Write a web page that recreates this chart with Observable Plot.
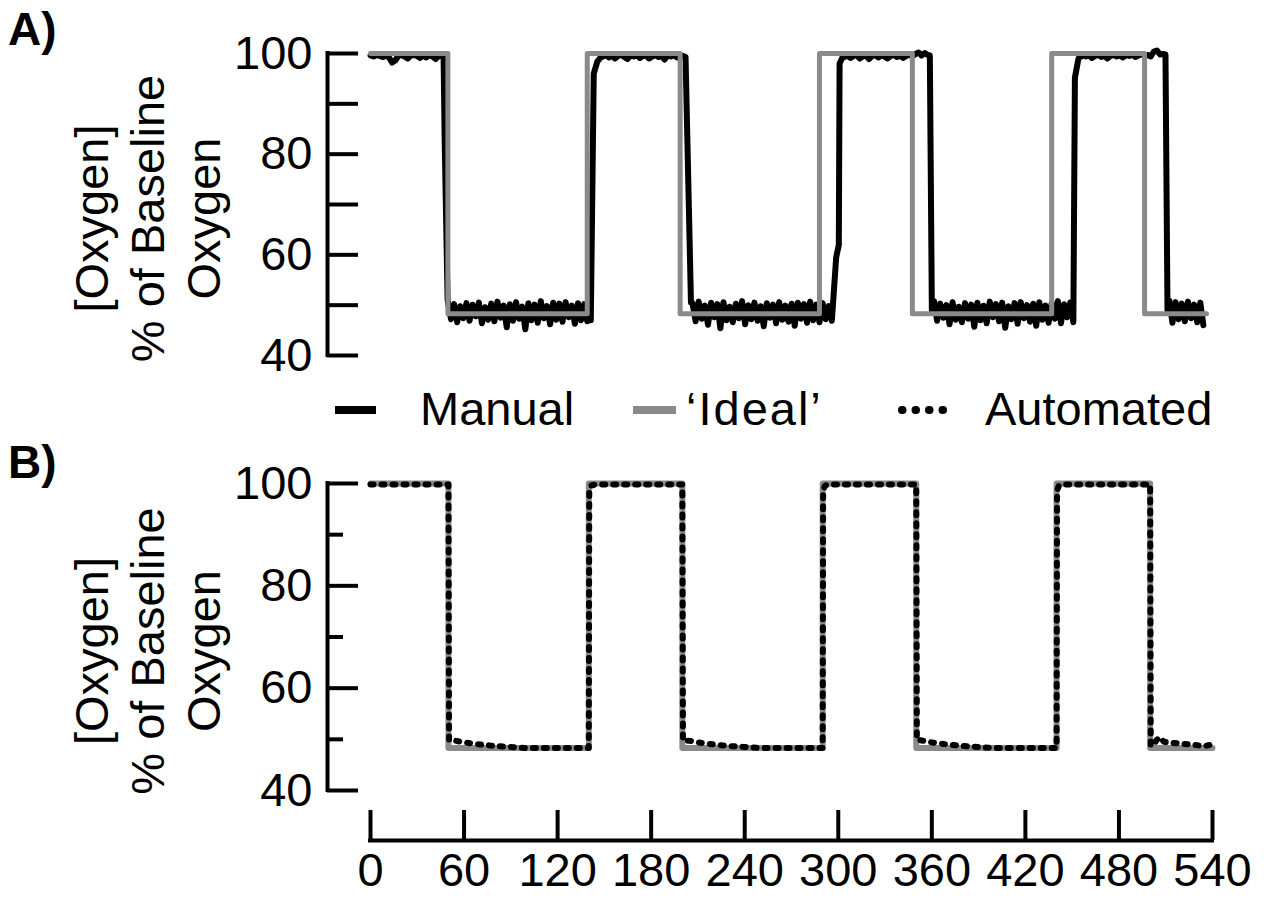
<!DOCTYPE html>
<html>
<head>
<meta charset="utf-8">
<script src="https://cdn.jsdelivr.net/npm/d3@7"></script>
<script src="https://cdn.jsdelivr.net/npm/@observablehq/plot@0.6"></script>
<style>
  html, body { margin: 0; padding: 0; background: #fff; }
  #wrap { position: relative; width: 1271px; height: 900px; overflow: hidden; background: #fff; }
  #wrap > * { position: absolute; left: 0; }
</style>
</head>
<body>
<div id="wrap"></div>
<script>
// ---------------- DATA ----------------
const xTicks = [0, 60, 120, 180, 240, 300, 360, 420, 480, 540];
const yTicksAll = [40, 50, 60, 70, 80, 90, 100];
const yTicksMajor = [40, 60, 80, 100];
const yTicksMinor = [50, 70, 90];
const yLabel = "[Oxygen]\n% of Baseline\nOxygen";
const panelTags = ["A)", "B)"];
const seriesNames = ["Manual", "\u2018Ideal\u2019", "Automated"];

// 'Ideal' square wave: switch times (s) and the level held from each time on
const idealTimes  = [0,   50,   140, 200,  290, 350,  440, 500,  540];
const idealLevels = [100, 48.3, 100, 48.3, 100, 48.3, 100, 48.3, 48.3];

// Manual trace (panel A): samples every 2 s inside each phase
const manualSampleStep = 2;
const manualHigh1 = [99.6, 99.4, 99.7, 99.5, 99.3, 99.6, 99.2, 98.2, 98.6, 99.5,
                     99.7, 99.4, 99.0, 99.6, 99.7, 99.5, 99.1, 99.6, 99.2, 99.7,
                     99.4, 98.9, 99.5, 99.6];                       // t = 0..46
const manualLow1  = [50.6, 47.2, 50.2, 46.6, 49.8, 47.4, 50.4, 46.9, 50.1, 47.8,
                     50.5, 46.4, 49.6, 47.1, 50.3, 46.8, 50.7, 47.5, 49.9, 45.6,
                     50.2, 46.9, 50.6, 47.3, 49.7, 45.2, 50.4, 47.0, 50.1, 46.5,
                     50.8, 47.4, 49.8, 46.2, 50.5, 47.1, 50.3, 46.7, 50.6, 47.6,
                     49.9, 46.3, 50.4, 47.0, 50.2, 46.8, 49.6];     // t = 50..142
const manualHigh2 = [99.4, 99.7, 99.2, 99.6, 99.0, 99.5, 99.7, 99.3, 98.9, 99.6,
                     99.4, 99.7, 99.1, 99.5, 99.6, 99.0, 99.4, 99.7, 99.3, 99.5,
                     98.8, 99.6, 99.4, 99.7, 99.2, 99.6, 99.5];     // t = 150..202
const manualLow2  = [50.4, 46.8, 50.7, 47.3, 49.9, 46.1, 50.5, 47.6, 50.2, 45.4,
                     50.6, 47.0, 49.7, 46.6, 50.3, 47.4, 50.8, 46.2, 50.0, 47.2,
                     50.5, 46.9, 49.8, 45.8, 50.4, 47.5, 50.1, 46.4, 50.6, 47.1,
                     49.9, 46.7, 50.3, 45.9, 50.5, 47.3, 50.2, 46.5, 50.7, 47.0,
                     50.1, 46.6, 50.4, 47.2, 49.8, 46.9];           // t = 208..298
const manualHigh3 = [99.3, 99.6, 99.1, 99.5, 99.7, 99.0, 99.4, 99.6, 98.9, 99.5,
                     99.7, 99.2, 99.6, 99.4, 99.0, 99.5, 99.7, 99.3, 99.6, 99.1,
                     99.5, 99.8, 99.4, 99.9, 100.2, 99.6, 100.1, 99.7]; // t = 306..360
const manualLow3  = [50.8, 46.9, 50.3, 47.5, 50.0, 46.2, 50.6, 47.1, 49.7, 46.6,
                     50.4, 47.3, 50.1, 45.7, 50.5, 47.0, 49.9, 46.4, 50.7, 47.6,
                     50.2, 46.8, 50.5, 45.5, 49.8, 47.2, 50.4, 46.3, 50.6, 47.4,
                     50.0, 46.7, 50.3, 45.9, 50.6, 47.1, 49.9, 46.5, 50.4, 47.3,
                     50.8, 46.4, 50.2, 47.6, 50.5, 46.6];           // t = 364..454
const manualHigh4 = [99.2, 99.6, 99.4, 99.7, 99.1, 99.5, 99.8, 99.3, 99.6, 99.0,
                     99.5, 99.7, 99.4, 99.6, 99.2, 99.7, 99.5, 99.8, 99.3, 99.6,
                     99.9, 99.5, 99.7, 99.4, 100.4, 100.6, 99.8, 99.9]; // t = 458..512
const manualLow4  = [50.9, 46.5, 50.6, 47.2, 50.3, 46.8, 50.7, 47.4, 50.1, 46.6,
                     50.5, 46.0];                                   // t = 516..538
const manualPhaseStarts = [0, 50, 150, 208, 306, 364, 458, 516];
// Transitions of the manual trace: [time (s), % of baseline]
const manualEdges = [
  [47.2, 99.3], [47.9, 83.0], [49.8, 51.0],
  [142.3, 47.0], [144.2, 96.0], [146.5, 98.4], [148.8, 99.3],
  [203.5, 99.3], [207.0, 50.5],
  [300.8, 59.5], [302.5, 62.0], [303.0, 98.0], [305.0, 99.3],
  [361.3, 99.6], [362.6, 49.0],
  [455.0, 95.2], [457.3, 99.0],
  [513.5, 99.8], [514.8, 49.0]
];

// Automated trace (panel B)
const autoTimes  = [0, 50, 50.4, 55, 60, 70, 80, 90, 100, 140,
                    140.3, 141.5, 144, 200, 200.4, 205, 210, 220, 230, 240,
                    250, 290, 290.3, 291.5, 294, 350, 350.4, 355, 360, 370,
                    380, 390, 400, 440, 440.3, 441.5, 444, 500, 500.4, 502,
                    504, 506, 509, 515, 525, 535, 538, 540];
const autoValues = [99.8, 99.8, 49.8, 49.7, 49.4, 49.0, 48.7, 48.5, 48.3, 48.3,
                    98.6, 99.6, 99.8, 99.8, 49.8, 49.7, 49.4, 49.0, 48.7, 48.5,
                    48.3, 48.3, 98.6, 99.6, 99.8, 99.8, 49.9, 49.7, 49.4, 49.0,
                    48.7, 48.5, 48.3, 48.3, 98.6, 99.6, 99.8, 99.8, 48.9, 48.7,
                    49.8, 50.4, 49.5, 49.3, 49.0, 48.7, 48.9, 48.5];

// ---------------- BUILD TABLES ----------------
const manualPhases = [manualHigh1, manualLow1, manualHigh2, manualLow2,
                      manualHigh3, manualLow3, manualHigh4, manualLow4];
const manual = manualPhases
  .flatMap((vals, k) => vals.map((v, i) => ({t: manualPhaseStarts[k] + i * manualSampleStep, v})))
  .concat(manualEdges.map(([t, v]) => ({t, v})))
  .sort((a, b) => a.t - b.t);
const ideal = idealTimes.map((t, i) => ({t, v: idealLevels[i]}));
const automated = autoTimes.map((t, i) => ({t, v: autoValues[i]}));

// ---------------- STYLE ----------------
const FONT = '"Liberation Sans", Arial, Helvetica, sans-serif';
const GRAY = "#8a8a8a";
const style = {fontFamily: FONT, fontSize: "47px", color: "black", background: "transparent", overflow: "visible"};
const wrap = document.getElementById("wrap");

function yAxisMarks(minorShort) {
  const m = [
    Plot.ruleX([0], {y1: 40, y2: 100, dx: -43, stroke: "black", strokeWidth: 4, strokeLinecap: "square"}),
    Plot.axisY(yTicksMajor, {tickSize: 0, tickPadding: 0, dx: -58, fontSize: 47, label: null})
  ];
  if (minorShort) {
    m.push(Plot.axisY(yTicksMajor, {tickSize: 31, dx: -12, strokeWidth: 4, fill: "none", label: null}));
    m.push(Plot.axisY(yTicksMinor, {tickSize: 16, dx: -27, strokeWidth: 4, fill: "none", label: null}));
  } else {
    m.push(Plot.axisY(yTicksAll, {tickSize: 31, dx: -12, strokeWidth: 4, fill: "none", label: null}));
  }
  m.push(Plot.text([yLabel], {frameAnchor: "left", text: d => d, rotate: -90, dx: -224, dy: 14,
                              fontSize: 47, lineHeight: 1.19, textAnchor: "middle"}));
  return m;
}

// Panel A
const plotA = Plot.plot({
  width: 1271, height: 380,
  marginLeft: 370, marginRight: 65, marginTop: 53, marginBottom: 25,
  x: {domain: [0, 540], axis: null},
  y: {domain: [40, 100], label: null},
  style,
  marks: [
    ...yAxisMarks(false),
    Plot.line(manual, {x: "t", y: "v", stroke: "black", strokeWidth: 6, strokeLinejoin: "round", strokeLinecap: "round"}),
    Plot.line(ideal, {x: "t", y: "v", curve: "step-after", stroke: GRAY, strokeWidth: 5})
  ]
});
plotA.style.top = "0px";
wrap.appendChild(plotA);

// Panel B
const plotB = Plot.plot({
  width: 1271, height: 460,
  marginLeft: 370, marginRight: 59, marginTop: 43, marginBottom: 110,
  x: {domain: [0, 540], label: null},
  y: {domain: [40, 100], label: null},
  style,
  marks: [
    ...yAxisMarks(true),
    Plot.ruleY([40], {x1: 0, x2: 540, dy: 50, stroke: "black", strokeWidth: 4, strokeLinecap: "square"}),
    Plot.axisX(xTicks, {tickSize: 30, dy: 20, strokeWidth: 4, fill: "none", label: null}),
    Plot.axisX(xTicks, {tickSize: 0, tickPadding: 0, dy: 62, fontSize: 47, label: null}),
    Plot.line(ideal, {x: "t", y: "v", curve: "step-after", stroke: GRAY, strokeWidth: 6}),
    Plot.line(automated, {x: "t", y: "v", stroke: "black", strokeWidth: 6,
                          strokeDasharray: "3,8", strokeLinecap: "round", strokeLinejoin: "round"})
  ]
});
plotB.style.top = "440px";
wrap.appendChild(plotB);

// Overlay: panel tags and legend
const ov = d3.select(wrap).append("svg")
  .attr("width", 1271).attr("height", 900)
  .style("top", "0px").style("font-family", FONT);
ov.selectAll("text.tag").data(panelTags).join("text")
  .attr("class", "tag")
  .attr("x", 8).attr("y", (d, i) => i === 0 ? 45 : 478)
  .attr("font-size", 46).attr("font-weight", "bold").text(d => d);

const legendStyles = [
  {x1: 335, x2: 376, tx: 420, stroke: "black", width: 8, dash: null, cap: "butt", spacing: 0},
  {x1: 633, x2: 676, tx: 686, stroke: GRAY, width: 8, dash: null, cap: "butt", spacing: 2},
  {x1: 902, x2: 943, tx: 985, stroke: "black", width: 8, dash: "0.5,13", cap: "round", spacing: 0}
];
const lg = ov.append("g");
seriesNames.forEach((name, i) => {
  const s = legendStyles[i];
  lg.append("line").attr("x1", s.x1).attr("x2", s.x2).attr("y1", 410).attr("y2", 410)
    .attr("stroke", s.stroke).attr("stroke-width", s.width)
    .attr("stroke-dasharray", s.dash).attr("stroke-linecap", s.cap);
  lg.append("text").attr("x", s.tx).attr("y", 425).attr("font-size", 47)
    .attr("letter-spacing", s.spacing).text(name);
});
</script>
</body>
</html>
